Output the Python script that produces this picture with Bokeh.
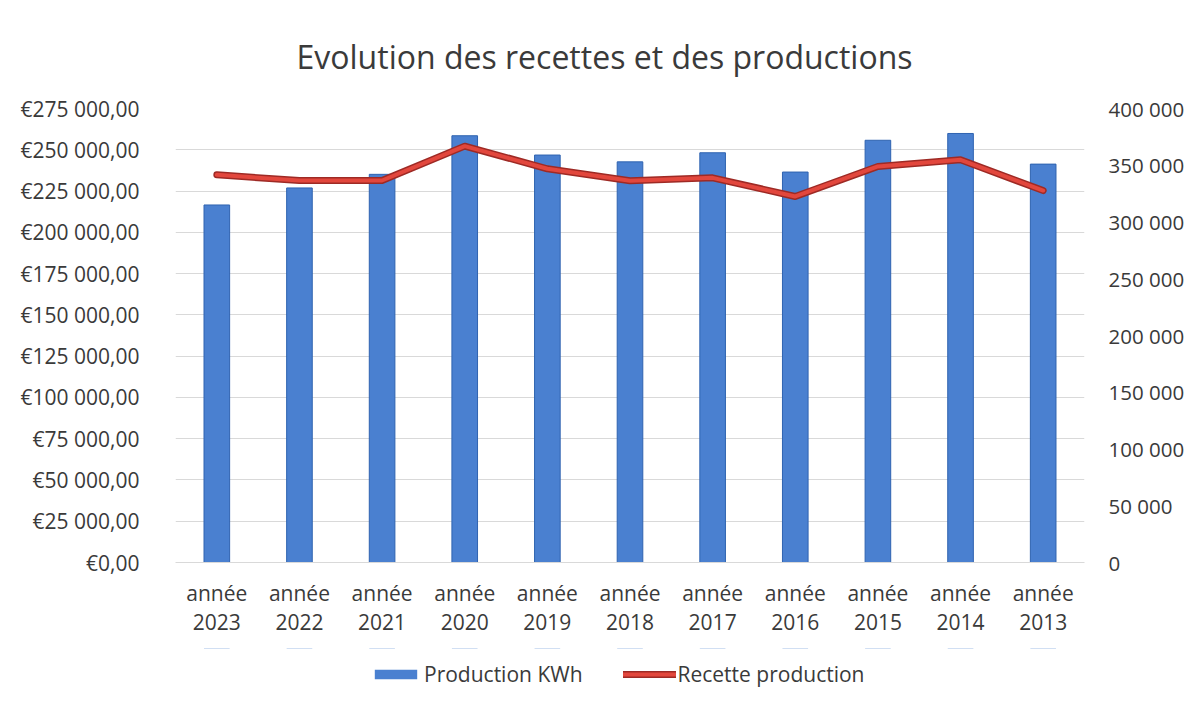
from bokeh.plotting import figure
from bokeh.layouts import column
from bokeh.models import Range1d, FactorRange, LinearAxis, FixedTicker, Legend, LegendItem, ColumnDataSource
from bokeh.embed import file_html
from bokeh.resources import INLINE

# ---- data ----
years = ["2023", "2022", "2021", "2020", "2019", "2018", "2017", "2016", "2015", "2014", "2013"]
categories = [f"année\n{y}" for y in years]
production_kwh = [315000, 330000, 342000, 376000, 359000, 353000, 361000, 344000, 372000, 378000, 351000]
recette_eur = [234800, 231400, 231400, 252200, 238500, 231200, 233000, 221700, 239900, 243900, 225300]
left_ticks = list(range(0, 275001, 25000))
right_ticks = list(range(0, 400001, 50000))
left_labels = {t: ("€" + f"{t:,.2f}".replace(",", " ").replace(".", ",")) for t in left_ticks}
right_labels = {t: f"{t:,}".replace(",", " ") for t in right_ticks}

FONT = "Open Sans"
TXT = "#3a3a3a"
BAR_FILL, BAR_LINE = "#4a80d0", "#2f63b0"
LINE_DARK, LINE_RED = "#9e2a25", "#e2473d"

src = ColumnDataSource(dict(cat=categories, kwh=production_kwh, eur=recette_eur))

p = figure(width=1190, height=648, x_range=categories, y_range=Range1d(0, 275000),
           output_backend="svg", toolbar_location=None,
           min_border_left=175, min_border_right=106, min_border_top=108, min_border_bottom=86)
p.extra_y_ranges = {"kwh": Range1d(0, 400000)}

p.title.text = "Evolution des recettes et des productions"
p.title.align = "left"
p.title.offset = 121
p.title.text_font = FONT
p.title.text_font_size = "32px"
p.title.text_font_style = "normal"
p.title.text_color = TXT
p.title.standoff = 62

p.outline_line_color = None
p.xgrid.grid_line_color = None
p.ygrid.ticker = FixedTicker(ticks=left_ticks)
p.ygrid.grid_line_color = "#d9d9d9"
p.ygrid.grid_line_width = 1

p.vbar(x="cat", top="kwh", width=0.31, source=src, y_range_name="kwh",
       fill_color=BAR_FILL, line_color=BAR_LINE, line_width=1)
p.line(x="cat", y="eur", source=src, line_color=LINE_DARK, line_width=7, line_join="round", line_cap="round")
p.line(x="cat", y="eur", source=src, line_color=LINE_RED, line_width=4, line_join="round", line_cap="round")

# left axis
la = p.yaxis[0]
la.ticker = FixedTicker(ticks=left_ticks)
la.major_label_overrides = left_labels
la.axis_line_color = None
la.major_tick_line_color = None
la.minor_tick_line_color = None
la.major_label_standoff = 30
la.major_label_text_font = FONT
la.major_label_text_font_size = "21px"
la.major_label_text_color = TXT

ra = LinearAxis(y_range_name="kwh", ticker=FixedTicker(ticks=right_ticks))
ra.major_label_overrides = right_labels
ra.axis_line_color = None
ra.major_tick_line_color = None
ra.minor_tick_line_color = None
ra.major_label_standoff = 18
ra.major_label_text_font = FONT
ra.major_label_text_font_size = "20.5px"
ra.major_label_text_color = TXT
p.add_layout(ra, "right")

xa = p.xaxis[0]
xa.axis_line_color = "#d9d9d9"
xa.major_tick_line_color = None
xa.minor_tick_line_color = None
xa.major_label_standoff = 10
xa.major_label_text_font = FONT
xa.major_label_text_font_size = "21px"
xa.major_label_text_line_height = 1.05
xa.major_label_text_color = TXT

# ---- legend strip: same series, placed outside the strip's view; only the legend shows ----
lf = figure(width=1190, height=58, x_range=FactorRange(*categories), y_range=Range1d(-400000, -300000),
            x_axis_type=None, y_axis_type=None, output_backend="svg", toolbar_location=None,
            min_border_left=0, min_border_right=0, min_border_top=0, min_border_bottom=0)
lf.outline_line_color = None
lf.grid.grid_line_color = None
lb = lf.vbar(x="cat", top="kwh", bottom="kwh", width=0.31, source=src,
             fill_color=BAR_FILL, line_color=None)
l1 = lf.line(x="cat", y="eur", source=src, line_color=LINE_DARK, line_width=7, line_cap="round")
l2 = lf.line(x="cat", y="eur", source=src, line_color=LINE_RED, line_width=4, line_cap="round")

legend = Legend(items=[LegendItem(label="Production KWh", renderers=[lb]),
                       LegendItem(label="Recette production", renderers=[l1, l2])],
                orientation="horizontal", location=(194, 18),
                glyph_width=53, glyph_height=12, label_standoff=2, spacing=40,
                padding=5, margin=0, border_line_color=None, background_fill_alpha=0,
                label_text_font=FONT, label_text_font_size="21px", label_text_color=TXT)
lf.add_layout(legend, "center")

open("out.html", "w").write(file_html(column(p, lf), INLINE))
